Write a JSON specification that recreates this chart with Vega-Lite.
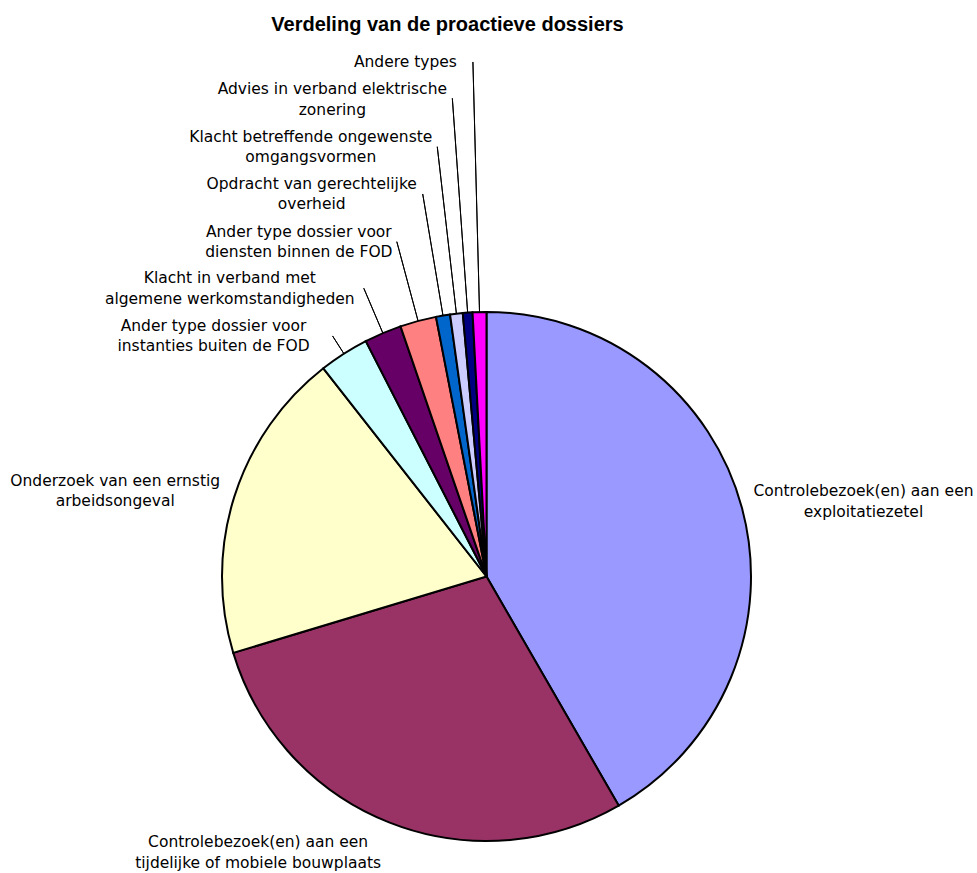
{
  "$schema": "https://vega.github.io/schema/vega-lite/v6.json",
  "width": 973,
  "height": 593,
  "autosize": "none",
  "padding": {"left": 0, "top": 280, "right": 4, "bottom": 0},
  "background": "white",
  "config": {"view": {"stroke": null}},
  "title": {"text": "Verdeling van de proactieve dossiers", "font": "Liberation Sans", "fontSize": 20, "fontWeight": "bold", "color": "#000", "anchor": "middle", "frame": "group", "offset": 4, "baseline": "alphabetic", "dx": -39},
  "data": {"values": [
    {"id": 1, "name": "Controlebezoek(en) aan een\nexploitatiezetel", "value": 41.67},
    {"id": 2, "name": "Controlebezoek(en) aan een\ntijdelijke of mobiele bouwplaats", "value": 28.67},
    {"id": 3, "name": "Onderzoek van een ernstig\narbeidsongeval", "value": 19.08},
    {"id": 4, "name": "Ander type dossier voor\ninstanties buiten de FOD", "value": 3.04},
    {"id": 5, "name": "Klacht in verband met\nalgemene werkomstandigheden", "value": 2.27},
    {"id": 6, "name": "Ander type dossier voor\ndiensten binnen de FOD", "value": 2.21},
    {"id": 7, "name": "Opdracht van gerechtelijke\noverheid", "value": 0.86},
    {"id": 8, "name": "Klacht betreffende ongewenste\nomgangsvormen", "value": 0.77},
    {"id": 9, "name": "Advies in verband elektrische\nzonering", "value": 0.59},
    {"id": 10, "name": "Andere types", "value": 0.84}
  ]},
  "transform": [
    {"stack": "value", "groupby": [], "sort": [{"field": "id", "order": "ascending"}], "as": ["s0", "s1"]},
    {"calculate": "(datum.s0 + datum.s1) / 2", "as": "mid"}
  ],
  "layer": [
    {"mark": {"type": "arc", "radius": 264.5, "stroke": "#000", "strokeWidth": 2},
     "encoding": {
       "theta": {"field": "s0", "type": "quantitative", "scale": {"domain": [0, 100]}},
       "theta2": {"field": "s1"},
       "color": {"field": "id", "type": "nominal", "legend": null,
         "scale": {"domain": [1,2,3,4,5,6,7,8,9,10], "range": ["#9999FF","#993366","#FFFFCC","#CCFFFF","#660066","#FF8080","#0066CC","#CCCCFF","#000080","#FF00FF"]}}
     }},
    {"transform": [{"filter": "datum.id == 4"}], "mark": {"type": "arc", "radius": 285.6, "radius2": 264.5, "stroke": "#000", "strokeWidth": 1, "fill": "transparent"}, "encoding": {"theta": {"field": "mid", "type": "quantitative", "scale": {"domain": [0, 100]}}, "theta2": {"field": "mid"}}},
    {"transform": [{"filter": "datum.id == 5"}], "mark": {"type": "arc", "radius": 313.3, "radius2": 264.5, "stroke": "#000", "strokeWidth": 1, "fill": "transparent"}, "encoding": {"theta": {"field": "mid", "type": "quantitative", "scale": {"domain": [0, 100]}}, "theta2": {"field": "mid"}}},
    {"transform": [{"filter": "datum.id == 6"}], "mark": {"type": "arc", "radius": 346.6, "radius2": 264.5, "stroke": "#000", "strokeWidth": 1, "fill": "transparent"}, "encoding": {"theta": {"field": "mid", "type": "quantitative", "scale": {"domain": [0, 100]}}, "theta2": {"field": "mid"}}},
    {"transform": [{"filter": "datum.id == 7"}], "mark": {"type": "arc", "radius": 387.8, "radius2": 264.5, "stroke": "#000", "strokeWidth": 1, "fill": "transparent"}, "encoding": {"theta": {"field": "mid", "type": "quantitative", "scale": {"domain": [0, 100]}}, "theta2": {"field": "mid"}}},
    {"transform": [{"filter": "datum.id == 8"}], "mark": {"type": "arc", "radius": 432.6, "radius2": 264.5, "stroke": "#000", "strokeWidth": 1, "fill": "transparent"}, "encoding": {"theta": {"field": "mid", "type": "quantitative", "scale": {"domain": [0, 100]}}, "theta2": {"field": "mid"}}},
    {"transform": [{"filter": "datum.id == 9"}], "mark": {"type": "arc", "radius": 479.4, "radius2": 264.5, "stroke": "#000", "strokeWidth": 1, "fill": "transparent"}, "encoding": {"theta": {"field": "mid", "type": "quantitative", "scale": {"domain": [0, 100]}}, "theta2": {"field": "mid"}}},
    {"transform": [{"filter": "datum.id == 10"}], "mark": {"type": "arc", "radius": 514.7, "radius2": 264.5, "stroke": "#000", "strokeWidth": 1, "fill": "transparent"}, "encoding": {"theta": {"field": "mid", "type": "quantitative", "scale": {"domain": [0, 100]}}, "theta2": {"field": "mid"}}},
    {"transform": [{"filter": "datum.id == 1"}], "mark": {"type": "text", "radius": 383, "dx": 7, "dy": 14, "align": "center", "baseline": "middle", "lineBreak": "\n", "lineHeight": 20.5, "fontSize": 15.5, "font": "DejaVu Sans", "color": "#000"}, "encoding": {"theta": {"field": "mid", "type": "quantitative", "scale": {"domain": [0, 100]}}, "text": {"field": "name"}}},
    {"transform": [{"filter": "datum.id == 2"}], "mark": {"type": "text", "radius": 305, "dx": -116, "dy": -18, "align": "center", "baseline": "middle", "lineBreak": "\n", "lineHeight": 20.5, "fontSize": 15.5, "font": "DejaVu Sans", "color": "#000"}, "encoding": {"theta": {"field": "mid", "type": "quantitative", "scale": {"domain": [0, 100]}}, "text": {"field": "name"}}},
    {"transform": [{"filter": "datum.id == 3"}], "mark": {"type": "text", "radius": 380, "dx": -9, "dy": 19, "align": "center", "baseline": "middle", "lineBreak": "\n", "lineHeight": 20.5, "fontSize": 15.5, "font": "DejaVu Sans", "color": "#000"}, "encoding": {"theta": {"field": "mid", "type": "quantitative", "scale": {"domain": [0, 100]}}, "text": {"field": "name"}}},
    {"transform": [{"filter": "datum.id == 4"}], "mark": {"type": "text", "radius": 285.6, "dx": -119, "dy": -10, "align": "center", "baseline": "middle", "lineBreak": "\n", "lineHeight": 20.5, "fontSize": 15.5, "font": "DejaVu Sans", "color": "#000"}, "encoding": {"theta": {"field": "mid", "type": "quantitative", "scale": {"domain": [0, 100]}}, "text": {"field": "name"}}},
    {"transform": [{"filter": "datum.id == 5"}], "mark": {"type": "text", "radius": 313.3, "dx": -134, "dy": -10, "align": "center", "baseline": "middle", "lineBreak": "\n", "lineHeight": 20.5, "fontSize": 15.5, "font": "DejaVu Sans", "color": "#000"}, "encoding": {"theta": {"field": "mid", "type": "quantitative", "scale": {"domain": [0, 100]}}, "text": {"field": "name"}}},
    {"transform": [{"filter": "datum.id == 6"}], "mark": {"type": "text", "radius": 346.6, "dx": -98, "dy": -10, "align": "center", "baseline": "middle", "lineBreak": "\n", "lineHeight": 20.5, "fontSize": 15.5, "font": "DejaVu Sans", "color": "#000"}, "encoding": {"theta": {"field": "mid", "type": "quantitative", "scale": {"domain": [0, 100]}}, "text": {"field": "name"}}},
    {"transform": [{"filter": "datum.id == 7"}], "mark": {"type": "text", "radius": 387.8, "dx": -111, "dy": -10, "align": "center", "baseline": "middle", "lineBreak": "\n", "lineHeight": 20.5, "fontSize": 15.5, "font": "DejaVu Sans", "color": "#000"}, "encoding": {"theta": {"field": "mid", "type": "quantitative", "scale": {"domain": [0, 100]}}, "text": {"field": "name"}}},
    {"transform": [{"filter": "datum.id == 8"}], "mark": {"type": "text", "radius": 432.6, "dx": -126.5, "dy": -10, "align": "center", "baseline": "middle", "lineBreak": "\n", "lineHeight": 20.5, "fontSize": 15.5, "font": "DejaVu Sans", "color": "#000"}, "encoding": {"theta": {"field": "mid", "type": "quantitative", "scale": {"domain": [0, 100]}}, "text": {"field": "name"}}},
    {"transform": [{"filter": "datum.id == 9"}], "mark": {"type": "text", "radius": 479.4, "dx": -120, "dy": -9, "align": "center", "baseline": "middle", "lineBreak": "\n", "lineHeight": 20.5, "fontSize": 15.5, "font": "DejaVu Sans", "color": "#000"}, "encoding": {"theta": {"field": "mid", "type": "quantitative", "scale": {"domain": [0, 100]}}, "text": {"field": "name"}}},
    {"transform": [{"filter": "datum.id == 10"}], "mark": {"type": "text", "radius": 514.7, "dx": -67.5, "dy": 0, "align": "center", "baseline": "middle", "lineBreak": "\n", "lineHeight": 20.5, "fontSize": 15.5, "font": "DejaVu Sans", "color": "#000"}, "encoding": {"theta": {"field": "mid", "type": "quantitative", "scale": {"domain": [0, 100]}}, "text": {"field": "name"}}}
  ]
}
